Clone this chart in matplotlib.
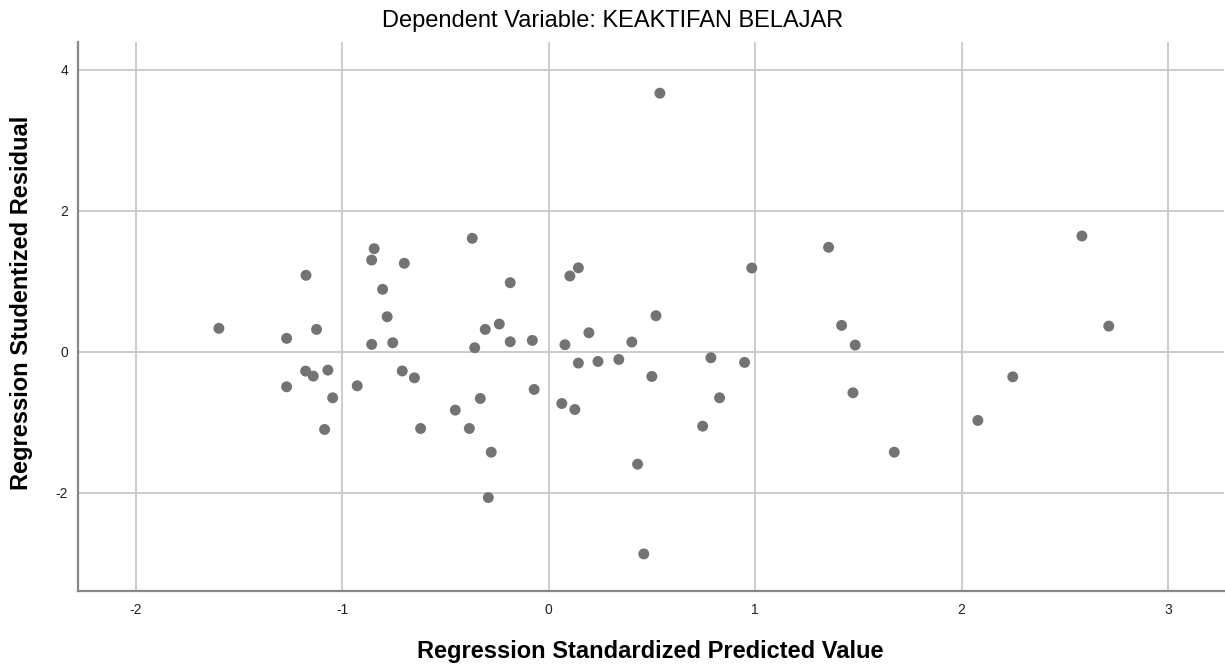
import matplotlib
matplotlib.use("Agg")
import matplotlib.pyplot as plt

# standardized predicted value vs studentized residual
pred_values = [
    -1.597, -1.269, -1.269, -1.177, -1.175, -1.140, -1.124, -1.085, -1.069, -1.046,
    -0.927, -0.857, -0.857, -0.845, -0.804, -0.782, -0.755, -0.709, -0.699, -0.650,
    -0.620, -0.452, -0.384, -0.370, -0.358, -0.331, -0.307, -0.292, -0.278, -0.239,
    -0.186, -0.186, -0.079, -0.070, 0.064, 0.079, 0.103, 0.127, 0.144, 0.144,
    0.195, 0.239, 0.340, 0.403, 0.431, 0.461, 0.500, 0.520, 0.539, 0.746,
    0.786, 0.828, 0.949, 0.984, 1.356, 1.419, 1.474, 1.485, 1.674, 2.079,
    2.248, 2.583, 2.713,
]
residuals = [
    0.332, 0.190, -0.496, -0.274, 1.084, -0.345, 0.317, -1.101, -0.260, -0.652,
    -0.482, 0.105, 1.300, 1.461, 0.885, 0.497, 0.128, -0.272, 1.254, -0.369,
    -1.087, -0.827, -1.087, 1.608, 0.057, -0.662, 0.317, -2.066, -1.423, 0.393,
    0.979, 0.142, 0.161, -0.534, -0.733, 0.100, 1.074, -0.818, 1.190, -0.160,
    0.270, -0.137, -0.109, 0.138, -1.593, -2.865, -0.350, 0.511, 3.665, -1.054,
    -0.085, -0.652, -0.151, 1.187, 1.481, 0.374, -0.581, 0.095, -1.423, -0.973,
    -0.355, 1.641, 0.364,
]
x_ticks = [-2, -1, 0, 1, 2, 3]
y_ticks = [-2, 0, 2, 4]

plt.rcParams['font.family'] = ['Liberation Sans', 'DejaVu Sans']
plt.rcParams['axes.unicode_minus'] = False  # SPSS uses a plain hyphen

fig = plt.figure(figsize=(12.25, 6.68), dpi=100)
ax = fig.add_axes([0.0634, 0.1153, 0.9356, 0.8218])

ax.scatter(pred_values, residuals, s=62, color='#737373', edgecolors='none', zorder=3)

ax.set_xlim(-2.281, 3.27)
ax.set_ylim(-3.39, 4.39)
ax.set_xticks(x_ticks)
ax.set_yticks(y_ticks)
ax.grid(True, color='#c8c8c8', linewidth=1.3)
ax.set_axisbelow(True)
ax.tick_params(length=0, labelsize=10, colors='#222222')
ax.tick_params(axis='x', pad=9)
ax.tick_params(axis='y', pad=7)

for side in ['top', 'right']:
    ax.spines[side].set_visible(False)
for side in ['left', 'bottom']:
    ax.spines[side].set_color('#888888')
    ax.spines[side].set_linewidth(1.6)

fig.suptitle('Dependent Variable: KEAKTIFAN BELAJAR', fontsize=17,
             y=0.968, va='center')
ax.set_xlabel('Regression Standardized Predicted Value', fontsize=17,
              fontweight='bold')
ax.set_ylabel('Regression Studentized Residual', fontsize=17,
              fontweight='bold')
ax.xaxis.set_label_coords(0.5, -0.090)
ax.yaxis.set_label_coords(-0.039, 0.525)

fig.savefig('out.png', dpi=100)
